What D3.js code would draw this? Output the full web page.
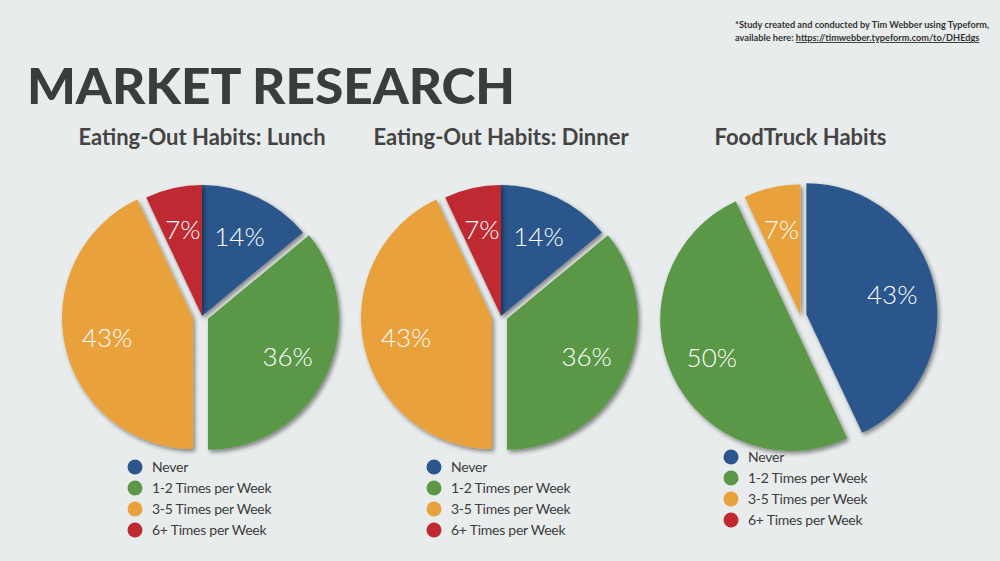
<!DOCTYPE html>
<html><head><meta charset="utf-8">
<script src="https://cdn.jsdelivr.net/npm/d3@7"></script>
<style>
html,body{margin:0;padding:0;background:#e9ecec;}
svg{display:block;}
</style></head>
<body>
<script>
// ---- data ----
const categories = ["Never", "1-2 Times per Week", "3-5 Times per Week", "6+ Times per Week"];
const lunchValues = [14, 36, 43, 7];
const dinnerValues = [14, 36, 43, 7];
const foodTruckValues = [43, 50, 7, 0];
const chartTitles = ["Eating-Out Habits: Lunch", "Eating-Out Habits: Dinner", "FoodTruck Habits"];
const mainTitle = "MARKET RESEARCH";
const noteLine1 = "*Study created and conducted by Tim Webber using Typeform,";
const noteLine2Prefix = "available here: ";
const noteUrl = "https://timwebber.typeform.com/to/DHEdgs";

// ---- styles / layout ----
const W = 1000, H = 561;
const colors = ["#2c568b", "#5a9747", "#e8a13b", "#bf2a31"];
const textDark = "#3b3c3c";
const R = 131;
const charts = [
  {values: lunchValues, cx: 202, cy: 316, explode: [0, 6.6, 9.2, 0], legendX: 135, legendY: 467},
  {values: dinnerValues, cx: 501, cy: 316, explode: [0, 6.6, 9.2, 0], legendX: 434, legendY: 467},
  {values: foodTruckValues, cx: 800.5, cy: 315.5, explode: [6, 10, 0, 0], legendX: 731, legendY: 457}
];

const svg = d3.select("body").append("svg").attr("width", W).attr("height", H);
svg.append("rect").attr("width", W).attr("height", H).attr("fill", "#e9ecec");

const defs = svg.append("defs");
const f = defs.append("filter").attr("id", "shadow").attr("x", "-20%").attr("y", "-20%").attr("width", "140%").attr("height", "140%");
f.append("feDropShadow").attr("dx", 2).attr("dy", 2.5).attr("stdDeviation", 2.2)
  .attr("flood-color", "#000").attr("flood-opacity", 0.45);

// note
const note = svg.append("text").attr("x", 735).attr("y", 28)
  .attr("font-family", "Lato, sans-serif").attr("font-weight", 700).attr("font-size", 9.2).attr("fill", "#333");
note.text(noteLine1);
const note2 = svg.append("text").attr("x", 735).attr("y", 41)
  .attr("font-family", "Lato, sans-serif").attr("font-weight", 700).attr("font-size", 9.2).attr("fill", "#333");
note2.append("tspan").text(noteLine2Prefix);
note2.append("tspan").attr("text-decoration", "underline").text(noteUrl);

// main title
svg.append("text").attr("x", 27).attr("y", 104)
  .attr("font-family", "Lato, sans-serif").attr("font-weight", 900).attr("font-size", 50)
  .attr("fill", textDark).attr("textLength", 488).attr("lengthAdjust", "spacingAndGlyphs")
  .text(mainTitle);

const pie = d3.pie().sort(null).value(d => d);
const arc = d3.arc().innerRadius(0).outerRadius(R);
const labelArc = d3.arc().innerRadius(88).outerRadius(88);

charts.forEach((c, ci) => {
  // subtitle
  svg.append("text").attr("x", c.cx).attr("y", 145).attr("text-anchor", "middle")
    .attr("font-family", "Lato, sans-serif").attr("font-weight", 700).attr("font-size", 22)
    .attr("fill", "#444").text(chartTitles[ci]);

  const g = svg.append("g").attr("transform", `translate(${c.cx},${c.cy})`);
  const arcs = pie(c.values);
  const off = (d, i) => {
    const a = (d.startAngle + d.endAngle) / 2;
    return [Math.sin(a) * c.explode[i], -Math.cos(a) * c.explode[i]];
  };
  g.selectAll("path.slice").data(arcs.filter(d => d.value > 0)).join("path")
    .attr("class", "slice")
    .attr("d", arc)
    .attr("fill", d => colors[d.index])
    .attr("filter", "url(#shadow)")
    .attr("transform", d => { const o = off(d, d.index); return `translate(${o[0]},${o[1]})`; });

  g.selectAll("text.pct").data(arcs.filter(d => d.value > 0)).join("text")
    .attr("class", "pct")
    .attr("transform", d => {
      const o = off(d, d.index); const p = labelArc.centroid(d);
      return `translate(${p[0] + o[0]},${p[1] + o[1]})`;
    })
    .attr("text-anchor", "middle").attr("dy", "0.36em")
    .attr("font-family", "Lato, sans-serif").attr("font-weight", 300).attr("font-size", 26)
    .attr("fill", "#fff").text(d => d.value + "%");

  // legend
  const lg = svg.append("g").attr("transform", `translate(${c.legendX},${c.legendY})`);
  const rows = lg.selectAll("g").data(categories).join("g")
    .attr("transform", (d, i) => `translate(0,${i * 21})`);
  rows.append("circle").attr("r", 7.5).attr("fill", (d, i) => colors[i]);
  rows.append("text").attr("x", 17).attr("dy", "0.35em")
    .attr("font-family", "Lato, sans-serif").attr("font-size", 14).attr("letter-spacing", -0.25)
    .attr("fill", textDark)
    .text(d => d);
});
</script>
</body></html>
